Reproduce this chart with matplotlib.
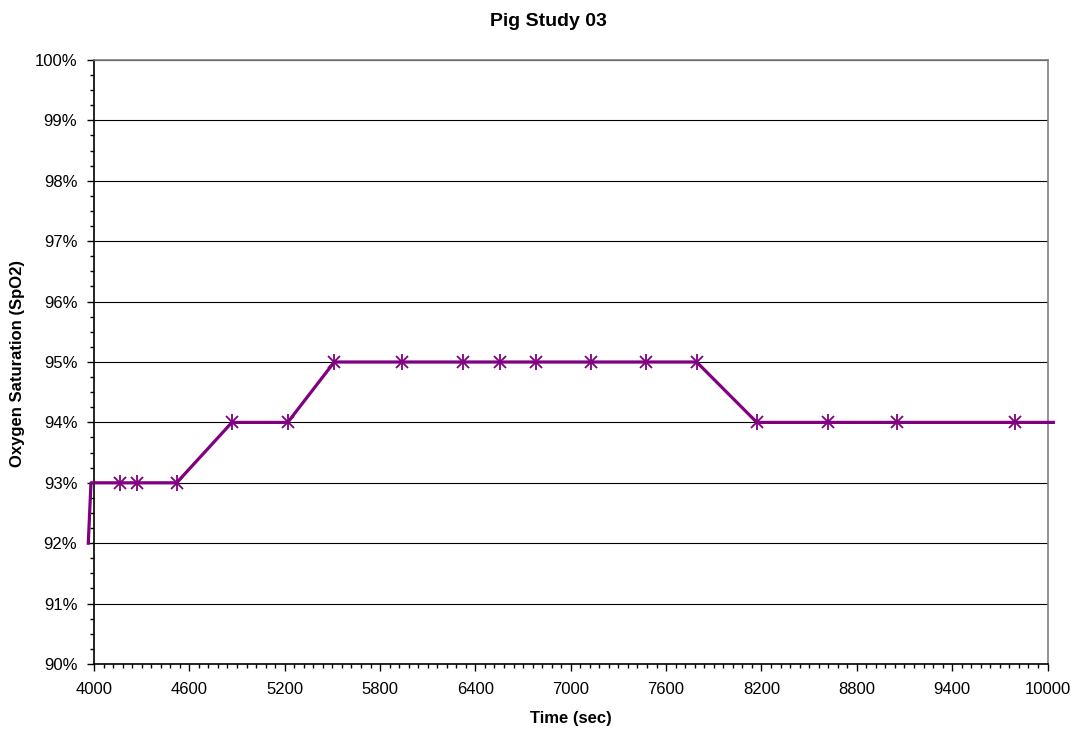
import numpy as np
import matplotlib.pyplot as plt
from matplotlib.ticker import FixedLocator, MultipleLocator, FuncFormatter

# readings: time (sec) and SpO2 (%)
times = [3964, 3981, 4164, 4269, 4520, 4868, 5219, 5512, 5936, 6321,
         6554, 6781, 7127, 7476, 7792, 8171, 8616, 9052, 9796, 10037]
spo2 = [92, 93, 93, 93, 93, 94, 94, 95, 95, 95,
        95, 95, 95, 95, 95, 94, 94, 94, 94, 94]

plt.rcParams['font.family'] = ['Liberation Sans', 'DejaVu Sans']

fig = plt.figure(figsize=(10.72, 7.29), dpi=100)
ax = fig.add_axes([94 / 1072, 1 - 664 / 729, (1047.5 - 94) / 1072, (664 - 60) / 729])

purple = '#800080'
ax.plot(times, spo2, color=purple, lw=2.3, clip_on=False, zorder=3)
marks = slice(2, 19)
t_m = np.array(times)[marks]
s_m = np.array(spo2)[marks]
ax.plot(t_m, s_m, ls='none', marker='x', ms=9, mew=1.3, color=purple, zorder=4)
ax.plot(t_m, s_m, ls='none', marker='|', ms=12, mew=1.3, color=purple, zorder=4)

ax.set_xlim(4000, 10000)
ax.set_ylim(90, 100)
ax.xaxis.set_major_locator(FixedLocator(np.arange(4000, 10001, 600)))
ax.xaxis.set_minor_locator(FixedLocator(np.arange(4000, 10001, 60)))
ax.yaxis.set_major_locator(MultipleLocator(1))
ax.yaxis.set_minor_locator(MultipleLocator(0.25))
ax.yaxis.set_major_formatter(FuncFormatter(lambda v, p: f'{v:.0f}%'))

ax.tick_params(which='major', direction='out', length=5, width=1, labelsize=12)
ax.tick_params(which='minor', direction='out', length=3, width=1)
ax.tick_params(axis='x', which='major', pad=8)
ax.tick_params(axis='y', which='major', pad=7)

ax.yaxis.grid(True, which='major', color='black', lw=0.8)
ax.set_axisbelow(True)
for side in ['top', 'right']:
    ax.spines[side].set_color('#808080')
    ax.spines[side].set_linewidth(1.2)
for side in ['left', 'bottom']:
    ax.spines[side].set_color('black')
    ax.spines[side].set_linewidth(1.2)

fig.text(548 / 1072, 1 - 22 / 729, 'Pig Study 03', ha='center', va='center',
         fontsize=14, fontweight='bold')
fig.text(571 / 1072, 1 - 719 / 729, 'Time (sec)', ha='center', va='center',
         fontsize=12, fontweight='bold')
fig.text(18 / 1072, 1 - 363 / 729, 'Oxygen Saturation (SpO2)', ha='center', va='center',
         rotation=90, fontsize=12, fontweight='bold')

fig.savefig('out.png', dpi=100)
